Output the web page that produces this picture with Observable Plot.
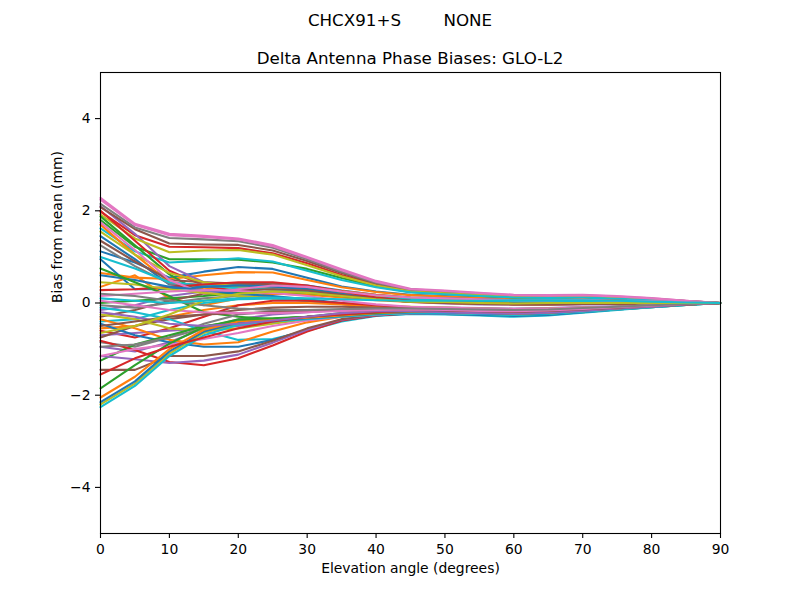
<!DOCTYPE html>
<html>
<head>
<meta charset="utf-8">
<script src="https://cdn.jsdelivr.net/npm/d3@7"></script>
<script src="https://cdn.jsdelivr.net/npm/@observablehq/plot@0.6"></script>
<style>
  body { margin: 0; background: #fff; }
  #wrap { position: relative; width: 800px; height: 600px; font-family: "DejaVu Sans", sans-serif; color: #000; }
  .ttl { position: absolute; font-size: 16.7px; white-space: pre; transform: translate(-50%, -50%); }
</style>
</head>
<body>
<div id="wrap">
  <div class="ttl" id="sup" style="left:400px; top:20px;"></div>
  <div class="ttl" id="ttl" style="left:410px; top:58px;"></div>
</div>
<script>
const supTitle = "CHCX91+S        NONE";
const plotTitle = "Delta Antenna Phase Biases: GLO-L2";
const xLabel = "Elevation angle (degrees)";
const yLabel = "Bias from mean (mm)";
const xTicks = [0, 10, 20, 30, 40, 50, 60, 70, 80, 90];
const yTicks = [-4, -2, 0, 2, 4];
const elevations = [0,5,10,15,20,25,30,35,40,45,50,55,60,65,70,75,80,85,90];

const topSeries = [
  [1.12,0.88,0.55,0.68,0.78,0.74,0.55,0.36,0.25,0.18,0.15,0.12,0.10,0.09,0.10,0.08,0.05,0.02,0],
  [0.65,0.55,0.52,0.60,0.67,0.66,0.50,0.34,0.24,0.17,0.14,0.11,0.09,0.09,0.09,0.07,0.05,0.02,0],
  [1.80,1.22,0.95,0.95,0.94,0.88,0.74,0.54,0.36,0.24,0.20,0.16,0.12,0.12,0.12,0.10,0.07,0.03,0],
  [1.98,1.47,1.22,1.21,1.19,1.08,0.86,0.61,0.40,0.26,0.22,0.18,0.14,0.13,0.14,0.11,0.08,0.04,0],
  [2.10,1.50,0.80,0.45,0.40,0.38,0.32,0.24,0.16,0.10,0.08,0.06,0.05,0.05,0.05,0.04,0.03,0.01,0],
  [2.08,1.60,1.29,1.27,1.26,1.14,0.91,0.65,0.42,0.28,0.24,0.19,0.15,0.14,0.15,0.12,0.08,0.04,0],
  [2.28,1.72,1.50,1.46,1.40,1.26,1.00,0.73,0.48,0.31,0.27,0.22,0.18,0.17,0.18,0.15,0.11,0.05,0],
  [2.15,1.64,1.41,1.38,1.34,1.20,0.95,0.68,0.44,0.29,0.25,0.20,0.16,0.15,0.16,0.13,0.09,0.04,0],
  [1.92,1.40,1.10,1.14,1.15,1.05,0.82,0.58,0.38,0.25,0.21,0.17,0.13,0.12,0.13,0.10,0.07,0.03,0],
  [1.62,1.12,0.88,0.92,0.97,0.90,0.70,0.50,0.34,0.23,0.19,0.15,0.12,0.11,0.12,0.09,0.06,0.03,0]
];
const dropSeries = [
  [1.45,0.95,0.40,0.35,0.40,0.42,0.38,0.27,0.18,0.12,0.10,0.08,0.06,0.05,0.06,0.05,0.03,0.01,0],
  [1.70,1.05,0.45,0.30,0.35,0.40,0.35,0.26,0.18,0.12,0.09,0.07,0.06,0.06,0.07,0.05,0.03,0.01,0],
  [1.88,1.25,0.62,0.18,0.25,0.32,0.30,0.22,0.15,0.10,0.08,0.06,0.05,0.05,0.06,0.05,0.03,0.01,0],
  [2.00,1.35,0.70,0.38,0.25,0.22,0.20,0.15,0.10,0.07,0.05,0.04,0.03,0.03,0.04,0.03,0.02,0.01,0],
  [-0.15,-0.05,0.15,0.25,0.30,0.32,0.28,0.18,0.08,0.02,-0.01,-0.03,-0.04,-0.04,-0.03,-0.02,-0.01,0,0],
  [1.35,0.90,0.50,0.45,0.42,0.40,0.34,0.25,0.17,0.11,0.09,0.07,0.05,0.05,0.06,0.04,0.03,0.01,0],
  [2.24,1.69,1.47,1.43,1.38,1.23,0.98,0.71,0.46,0.30,0.26,0.21,0.17,0.16,0.17,0.14,0.10,0.05,0],
  [1.25,0.80,0.42,0.40,0.38,0.36,0.30,0.22,0.15,0.10,0.08,0.06,0.05,0.04,0.05,0.04,0.02,0.01,0],
  [1.55,1.05,0.65,0.45,0.35,0.30,0.26,0.20,0.14,0.09,0.07,0.05,0.04,0.04,0.05,0.04,0.03,0.01,0],
  [1.00,0.75,0.45,0.38,0.32,0.30,0.26,0.18,0.12,0.08,0.06,0.05,0.04,0.04,0.04,0.03,0.02,0.01,0]
];
const midSeries = [
  [0.95,0.30,0.30,0.35,0.38,0.36,0.30,0.20,0.10,0.05,0.03,0.01,0.00,-0.01,0.00,0.00,0.00,0.00,0],
  [0.35,0.60,0.10,-0.05,0.10,0.20,0.18,0.12,0.06,0.02,0.00,-0.02,-0.03,-0.03,-0.02,-0.02,-0.01,0,0],
  [0.00,0.05,0.10,0.15,0.22,0.25,0.22,0.15,0.08,0.03,0.01,-0.01,-0.02,-0.02,-0.01,-0.01,0,0,0],
  [0.28,0.30,0.35,0.40,0.45,0.45,0.38,0.25,0.12,0.05,0.02,0.00,-0.02,-0.02,-0.01,-0.01,0,0,0],
  [-0.95,-1.05,-0.85,-0.55,-0.35,-0.25,-0.20,-0.15,-0.12,-0.10,-0.10,-0.11,-0.12,-0.11,-0.09,-0.07,-0.04,-0.02,0],
  [-0.30,-0.15,0.05,0.20,0.28,0.30,0.27,0.18,0.09,0.03,0.00,-0.02,-0.03,-0.03,-0.02,-0.02,-0.01,0,0],
  [1.75,1.15,0.50,0.20,0.30,0.38,0.35,0.25,0.17,0.12,0.10,0.08,0.06,0.06,0.07,0.05,0.04,0.02,0],
  [-0.05,-0.10,0.00,0.10,0.15,0.12,0.05,-0.02,-0.08,-0.12,-0.14,-0.15,-0.15,-0.14,-0.12,-0.09,-0.06,-0.02,0],
  [0.45,0.40,0.30,0.22,0.15,0.10,0.05,0.00,-0.05,-0.08,-0.10,-0.12,-0.13,-0.12,-0.10,-0.08,-0.05,-0.02,0],
  [-0.40,-0.35,-0.15,0.00,0.08,0.10,0.05,-0.02,-0.08,-0.13,-0.16,-0.18,-0.20,-0.19,-0.16,-0.12,-0.08,-0.03,0],
  [0.60,0.50,0.35,0.28,0.20,0.15,0.08,0.00,-0.06,-0.10,-0.13,-0.16,-0.18,-0.17,-0.14,-0.11,-0.07,-0.03,0],
  [-0.55,-0.50,-0.30,-0.15,-0.05,0.00,0.00,-0.03,-0.08,-0.12,-0.15,-0.18,-0.20,-0.19,-0.16,-0.12,-0.08,-0.03,0],
  [0.75,0.45,0.15,-0.20,-0.30,-0.35,-0.30,-0.22,-0.15,-0.12,-0.12,-0.13,-0.14,-0.13,-0.11,-0.08,-0.05,-0.02,0],
  [-0.60,-0.75,-0.55,-0.30,-0.05,0.05,0.05,0.00,-0.05,-0.10,-0.12,-0.14,-0.15,-0.14,-0.12,-0.09,-0.06,-0.02,0],
  [-0.70,-0.65,-0.60,-0.55,-0.50,-0.42,-0.34,-0.28,-0.22,-0.19,-0.18,-0.19,-0.20,-0.18,-0.15,-0.11,-0.07,-0.03,0],
  [-0.75,-0.50,-0.35,-0.25,-0.15,-0.10,-0.08,-0.08,-0.10,-0.12,-0.14,-0.16,-0.17,-0.16,-0.13,-0.10,-0.06,-0.02,0],
  [0.15,0.20,0.25,0.28,0.26,0.22,0.15,0.05,-0.03,-0.08,-0.10,-0.12,-0.13,-0.12,-0.10,-0.08,-0.05,-0.02,0],
  [-0.85,-0.95,-0.75,-0.45,-0.25,-0.18,-0.15,-0.15,-0.17,-0.20,-0.22,-0.24,-0.25,-0.22,-0.18,-0.13,-0.08,-0.03,0],
  [-0.25,-0.35,-0.55,-0.60,-0.55,-0.45,-0.35,-0.28,-0.23,-0.22,-0.24,-0.26,-0.28,-0.25,-0.20,-0.14,-0.09,-0.04,0],
  [-0.10,-0.20,-0.35,-0.60,-0.80,-0.78,-0.60,-0.40,-0.28,-0.24,-0.25,-0.27,-0.30,-0.27,-0.21,-0.15,-0.09,-0.04,0]
];
const lowSeries = [
  [-0.45,-0.70,-0.85,-0.95,-0.95,-0.80,-0.58,-0.38,-0.27,-0.23,-0.24,-0.26,-0.28,-0.26,-0.20,-0.14,-0.09,-0.04,0],
  [-0.35,-0.55,-0.80,-0.90,-0.85,-0.62,-0.42,-0.30,-0.22,-0.18,-0.19,-0.21,-0.23,-0.21,-0.17,-0.12,-0.07,-0.03,0],
  [-1.25,-0.90,-0.70,-0.50,-0.40,-0.35,-0.30,-0.25,-0.20,-0.18,-0.18,-0.20,-0.21,-0.19,-0.15,-0.11,-0.07,-0.03,0],
  [-0.82,-1.02,-1.28,-1.35,-1.20,-0.92,-0.62,-0.38,-0.27,-0.22,-0.21,-0.22,-0.24,-0.22,-0.18,-0.13,-0.08,-0.03,0],
  [-1.15,-1.22,-1.30,-1.25,-1.12,-0.86,-0.58,-0.36,-0.26,-0.21,-0.20,-0.21,-0.23,-0.21,-0.17,-0.12,-0.08,-0.03,0],
  [-1.45,-1.45,-1.15,-1.15,-1.05,-0.82,-0.55,-0.35,-0.25,-0.20,-0.19,-0.20,-0.22,-0.20,-0.16,-0.12,-0.07,-0.03,0],
  [-1.15,-1.00,-0.90,-0.78,-0.65,-0.50,-0.38,-0.30,-0.25,-0.22,-0.22,-0.23,-0.24,-0.22,-0.18,-0.13,-0.08,-0.03,0],
  [-0.95,-0.90,-0.75,-0.55,-0.45,-0.38,-0.32,-0.27,-0.22,-0.20,-0.20,-0.22,-0.23,-0.21,-0.17,-0.12,-0.08,-0.03,0],
  [-2.20,-1.75,-1.10,-0.65,-0.44,-0.38,-0.33,-0.29,-0.24,-0.21,-0.21,-0.23,-0.25,-0.23,-0.18,-0.13,-0.08,-0.03,0],
  [-2.26,-1.80,-1.15,-0.70,-0.47,-0.40,-0.35,-0.30,-0.25,-0.22,-0.22,-0.24,-0.26,-0.24,-0.19,-0.14,-0.09,-0.04,0],
  [-2.15,-1.70,-1.05,-0.62,-0.43,-0.38,-0.33,-0.28,-0.23,-0.20,-0.20,-0.22,-0.24,-0.22,-0.17,-0.12,-0.08,-0.03,0],
  [-2.05,-1.60,-1.00,-0.58,-0.40,-0.36,-0.32,-0.27,-0.22,-0.19,-0.19,-0.21,-0.23,-0.21,-0.16,-0.12,-0.07,-0.03,0],
  [-1.85,-1.35,-0.88,-0.52,-0.36,-0.33,-0.30,-0.25,-0.21,-0.18,-0.18,-0.20,-0.22,-0.20,-0.16,-0.11,-0.07,-0.03,0],
  [-1.55,-1.20,-0.95,-0.75,-0.55,-0.40,-0.30,-0.25,-0.20,-0.17,-0.17,-0.19,-0.21,-0.19,-0.15,-0.11,-0.07,-0.03,0],
  [-0.20,-0.30,-0.45,-0.50,-0.45,-0.38,-0.30,-0.22,-0.18,-0.18,-0.20,-0.22,-0.23,-0.21,-0.17,-0.12,-0.08,-0.03,0],
  [-0.50,-0.40,-0.30,-0.25,-0.22,-0.20,-0.18,-0.16,-0.15,-0.15,-0.16,-0.18,-0.19,-0.17,-0.14,-0.10,-0.06,-0.02,0],
  [0.05,-0.05,-0.15,-0.20,-0.22,-0.22,-0.20,-0.17,-0.15,-0.14,-0.15,-0.17,-0.18,-0.16,-0.13,-0.09,-0.06,-0.02,0],
  [0.20,0.15,0.05,-0.05,-0.12,-0.15,-0.15,-0.13,-0.12,-0.12,-0.13,-0.14,-0.15,-0.14,-0.11,-0.08,-0.05,-0.02,0],
  [-0.65,-0.50,-0.25,0.05,0.20,0.25,0.22,0.15,0.08,0.03,0.02,0.00,-0.01,0.00,0.00,0.00,0.00,0.00,0],
  [0.10,0.05,0.00,0.05,0.10,0.12,0.10,0.08,0.06,0.05,0.05,0.05,0.06,0.06,0.06,0.05,0.03,0.01,0]
];

const tab10 = ["#1f77b4","#ff7f0e","#2ca02c","#d62728","#9467bd","#8c564b","#e377c2","#7f7f7f","#bcbd22","#17becf"];

const allSeries = [...topSeries, ...dropSeries, ...midSeries, ...lowSeries];
const rows = [];
allSeries.forEach((vals, s) => vals.forEach((v, i) => rows.push({s, elev: elevations[i], bias: v})));

document.getElementById("sup").textContent = supTitle;
document.getElementById("ttl").textContent = plotTitle;

const chart = Plot.plot({
  width: 800,
  height: 600,
  marginTop: 72,
  marginBottom: 67,
  marginLeft: 100,
  marginRight: 80,
  style: {fontFamily: "DejaVu Sans, sans-serif", fontSize: "13.9px", color: "#000", background: "transparent", overflow: "visible"},
  x: {domain: [0, 90]},
  y: {domain: [-5, 5]},
  color: {type: "ordinal", domain: d3.range(allSeries.length), range: tab10},
  marks: [
    Plot.line(rows, {x: "elev", y: "bias", z: "s", stroke: "s", strokeWidth: 2.08}),
    Plot.frame({stroke: "#000", strokeWidth: 1.1}),
    Plot.axisX({ticks: xTicks, tickSize: 5, tickPadding: 6, strokeWidth: 1.1, label: null, tickFormat: d3.format("d")}),
    Plot.axisY({ticks: yTicks, tickSize: 5, tickPadding: 5, strokeWidth: 1.1, label: null}),
    Plot.text([xLabel], {frameAnchor: "bottom", dy: 39}),
    Plot.text([yLabel], {frameAnchor: "left", rotate: -90, dx: -43})
  ]
});
chart.style.position = "absolute";
chart.style.left = "0px";
chart.style.top = "0px";
document.getElementById("wrap").appendChild(chart);
</script>
</body>
</html>
